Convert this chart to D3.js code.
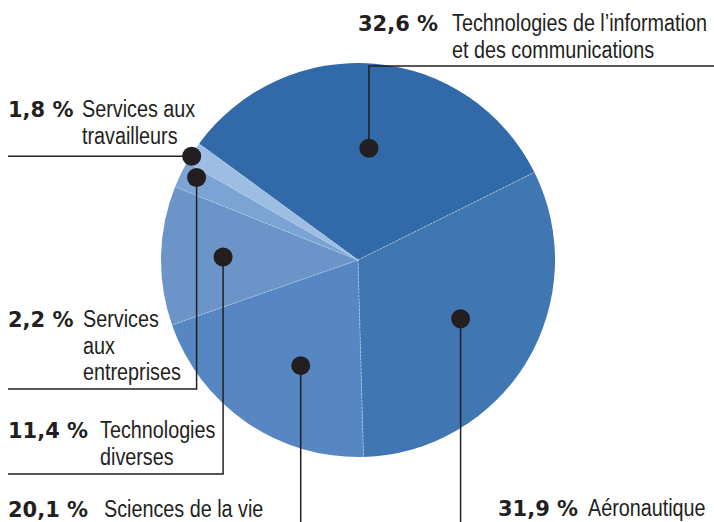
<!DOCTYPE html>
<html>
<head>
<meta charset="utf-8">
<script src="https://cdn.jsdelivr.net/npm/d3@7"></script>
<style>
  body { margin: 0; background: #fff; }
  .pct { font-family: "DejaVu Sans", sans-serif; font-weight: bold; font-size: 21px; fill: #231f20; }
  .lbl { font-family: "Liberation Sans", Arial, sans-serif; font-size: 23px; fill: #231f20; }
</style>
</head>
<body>
<div id="chart"></div>
<script>
// data, in drawing order (clockwise)
var sectors = ['Technologies de l\u2019information et des communications', 'Aéronautique',
  'Sciences de la vie', 'Technologies diverses', 'Services aux entreprises', 'Services aux travailleurs']
var shares = [32.6, 31.9, 20.1, 11.4, 2.2, 1.8]
var pctLabels = ['32,6 %', '31,9 %', '20,1 %', '11,4 %', '2,2 %', '1,8 %']
var labelLines = [
  ['Technologies de l\u2019information', 'et des communications'],
  ['Aéronautique'],
  ['Sciences de la vie'],
  ['Technologies', 'diverses'],
  ['Services', 'aux', 'entreprises'],
  ['Services aux', 'travailleurs']
]
var colors = ['#3169a9', '#4076b1', '#5687c2', '#6b95c8', '#7ba4d4', '#9dbde3']

var svgWidth = 714
var svgHeight = 522
var cx = 358, cy = 260, radius = 197
var narrow = 0.86   // condensed look for the labels

var svg = d3.select('#chart').append('svg')
  .attr('width', svgWidth)
  .attr('height', svgHeight)

var g = svg.append('g').attr('transform', `translate(${cx}, ${cy})`)

var startDeg = -53.8
var pie = d3.pie().sort(null)
  .startAngle(startDeg * Math.PI / 180)
  .endAngle(startDeg * Math.PI / 180 + 2 * Math.PI)
var arcs = pie(shares)

var arc = d3.arc().innerRadius(0).outerRadius(radius)

g.selectAll('path.slice')
  .data(arcs)
  .enter()
  .append('path')
  .attr('class', 'slice')
  .attr('d', arc)
  .attr('fill', (d, i) => colors[i])

// thin light separators between slices
g.selectAll('line.sep')
  .data(arcs)
  .enter()
  .append('line')
  .attr('x1', 0).attr('y1', 0)
  .attr('x2', d => radius * Math.sin(d.startAngle))
  .attr('y2', d => -radius * Math.cos(d.startAngle))
  .attr('stroke', '#b4cbe8')
  .attr('stroke-width', 0.8)
  .attr('stroke-dasharray', '2,1.5')

// callout layout: where the dot sits in each slice and how the leader runs
var callouts = [
  {rf: 0.57, da: 0.7, route: 'upRight', yTurn: 66, pctX: 358, textX: 452, y: 31},
  {rf: 0.60, da: -1.2, route: 'down', pctX: 498, textX: 588, y: 516},
  {rf: 0.61, da: -6.1, route: 'down', pctX: 8, textX: 104, y: 517},
  {rf: 0.685, da: 0, route: 'downLeft', yTurn: 474, pctX: 8, textX: 100, y: 438},
  {rf: 0.92, da: 1.3, route: 'downLeft', yTurn: 389, pctX: 8, textX: 83, y: 327},
  {rf: 0.995, da: -1.0, route: 'left', pctX: 8, textX: 82, y: 117}
]
var lineGap = 26.5

arcs.forEach(function(d, i) {
  var c = callouts[i]
  var a = (d.startAngle + d.endAngle) / 2 + c.da * Math.PI / 180
  c.x = cx + c.rf * radius * Math.sin(a)
  c.y0 = cy - c.rf * radius * Math.cos(a)
})

var leaders = svg.append('g')
callouts.forEach(function(c) {
  var p
  if (c.route === 'upRight') p = [[c.x, c.y0], [c.x, c.yTurn], [svgWidth, c.yTurn]]
  else if (c.route === 'down') p = [[c.x, c.y0], [c.x, svgHeight]]
  else if (c.route === 'downLeft') p = [[c.x, c.y0], [c.x, c.yTurn], [8, c.yTurn]]
  else p = [[c.x, c.y0], [8, c.y0]]
  leaders.append('path')
    .attr('d', d3.line()(p))
    .attr('fill', 'none')
    .attr('stroke', '#231f20')
    .attr('stroke-width', 1.5)
})

svg.append('g').selectAll('circle')
  .data(callouts)
  .enter()
  .append('circle')
  .attr('cx', d => d.x)
  .attr('cy', d => d.y0)
  .attr('r', 9.5)
  .attr('fill', '#231f20')

var labels = svg.append('g')
callouts.forEach(function(c, i) {
  labels.append('text')
    .attr('class', 'pct')
    .attr('x', c.pctX)
    .attr('y', c.y)
    .text(pctLabels[i])
  labelLines[i].forEach(function(line, j) {
    labels.append('text')
      .attr('class', 'lbl')
      .attr('transform', `translate(${c.textX}, ${c.y + j * lineGap}) scale(${narrow}, 1)`)
      .text(line)
  })
})
</script>
</body>
</html>
